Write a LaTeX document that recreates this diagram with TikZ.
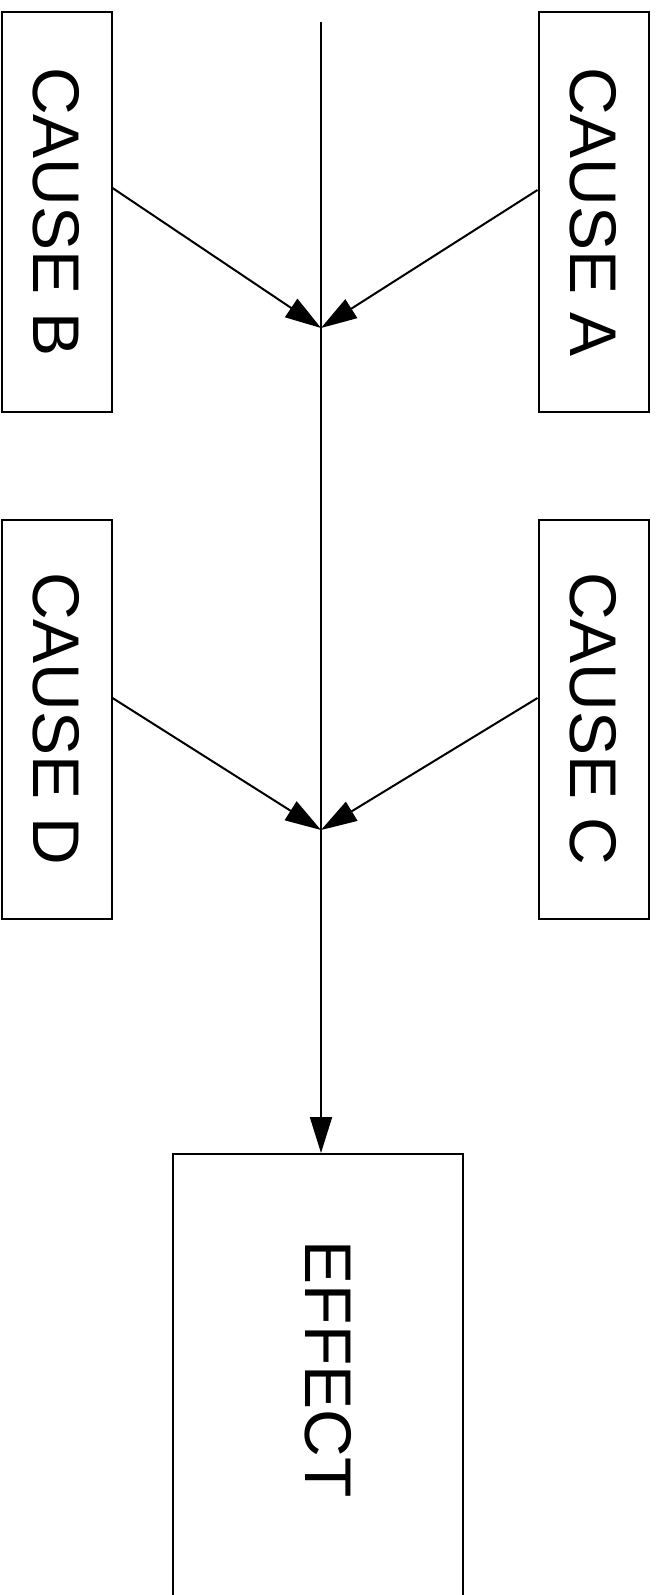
\documentclass[tikz,border=0pt]{standalone}
\usepackage{graphicx}
\usepackage{fontspec}
\setmainfont{Liberation Sans}
\usepackage{tikz}
\usetikzlibrary{arrows.meta,positioning}
\tikzset{
    %Define standard arrow tip
    >={Triangle[length=36pt,width=22pt]},
    %Define style for boxes
    causebox/.style={
           rectangle,
           draw=black, line width=2pt,
           minimum width=110pt,
           minimum height=399pt,
           inner sep=0pt,
           font=\fontsize{66}{78}\selectfont,
           text centered},
    effectbox/.style={
           rectangle,
           draw=black, line width=2pt,
           minimum width=290pt,
           minimum height=460pt,
           inner sep=0pt,
           font=\fontsize{66}{78}\selectfont,
           text centered},
    % Define arrow style
    rib/.style={
           ->,
           line width=2pt}
}
\newcommand{\vtext}[1]{\rotatebox{-90}{#1}}

\begin{document}
\begin{tikzpicture}[x=1pt,y=-1pt]
\useasboundingbox (0,0) rectangle (657,1595);
\node[causebox](B) at (56.5,212){\vtext{CAUSE B}};
\node[causebox, right=425pt of B](A){\vtext{CAUSE A}};
\node[causebox, below=106pt of B](D){\vtext{CAUSE D}};
\node[causebox, below=106pt of A](C){\vtext{CAUSE C}};
\node[effectbox, anchor=north](E) at (317.5,1153){\vtext{\rule[-22pt]{0pt}{22pt}EFFECT\hspace{30pt}}};
% spine and joints
\coordinate (top) at (321,22);
\coordinate (j1) at (321,328);
\coordinate (j2) at (321,830);
\draw[rib] (top) -- (top |- E.north);
\draw[rib] ([yshift=24pt]B.east) -- (j1);
\draw[rib] ([yshift=22pt]A.west) -- (j1);
\draw[rib] ([yshift=21pt]D.east) -- (j2);
\draw[rib] ([yshift=21pt]C.west) -- (j2);
\end{tikzpicture}
\end{document}
